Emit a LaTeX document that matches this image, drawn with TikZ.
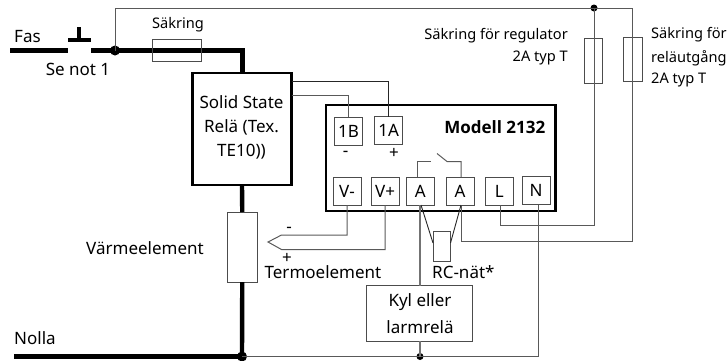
\documentclass[tikz,border=0pt]{standalone}
\usepackage{fontspec}
\setmainfont{Noto Sans}
\newfontfamily\modelfont{Open Sans}
\newcommand{\pxbox}[7][]{%
  \pgfmathsetmacro{\bw}{#5-#3}\pgfmathsetmacro{\bh}{#6-#4}%
  \pgfmathsetmacro{\bx}{(#3+#5)/2}\pgfmathsetmacro{\by}{(#4+#6)/2}%
  \node[#1,minimum width=\bw pt,minimum height=\bh pt] (#2) at (\bx,\by) {#7};}
\begin{document}
\begin{tikzpicture}[x=1pt,y=-1pt,
  boxa/.style={draw=black!70,line width=0.9pt,fill=white,inner sep=0pt,outer sep=0pt,align=center},
  term/.style={boxa,font=\fontsize{17}{20}\selectfont},
  boxb/.style={draw=black,line width=2.4pt,inner sep=0pt,outer sep=0pt,align=center},
  wire/.style={draw=black!65,line width=1pt},
  wireb/.style={draw=black!85,line width=0.9pt},
  power/.style={draw=black,line width=4.4pt},
  dot/.style={circle,fill=black,inner sep=0pt,minimum size=#1},
  txt/.style={inner sep=0pt,font=\fontsize{17}{20}\selectfont},
  small/.style={inner sep=0pt,font=\fontsize{14.6}{17}\selectfont}]
\useasboundingbox (0,0) rectangle (728,360);
% main boxes
\pxbox[boxb]{ssr}{192.5}{73}{291.5}{185}{}
\pxbox[boxb]{model}{326}{105}{555.5}{211}{}
% power lines
\coordinate (fasL) at (10,50.5);
\coordinate (fasR) at (68,50.5);
\coordinate (swR) at (91,50.5);
\node[dot=10pt] (j1) at (115,50.5) {};
\node[dot=10pt] (j2) at (242,356.5) {};
\coordinate (nolL) at (14,356.5);
\pxbox[boxa]{heater}{227.5}{212}{257}{282}{}
\draw[power] (fasL) -- (fasR);
\draw[power,line join=miter] (swR) -| (ssr.north -| 242.5,0);
\draw[power] (ssr.south -| 242,0) -- (heater.north);
\draw[power] (heater.south) -- (j2.center);
\draw[power] (nolL) -- (j2.center);
% switch
\coordinate (swa) at (68,40);
\coordinate (swb) at (90.5,40);
\coordinate (swc) at (79,27);
\coordinate (swd) at (79,40);
\draw[line width=4.6pt] (swa) -- (swb);
\draw[line width=4.6pt] (swc) -- (swd);
% fuses
\pxbox[boxa,fill=none]{fmain}{152.5}{39.5}{201.5}{61}{}
\pxbox[boxa,fill=none]{freg}{584}{38}{602}{83}{}
\pxbox[boxa,fill=none]{frel}{623}{37}{642}{81}{}
% terminals
\pxbox[term]{tB}{334.5}{117}{362.5}{145.5}{1B}
\pxbox[term]{tA}{374.7}{116.7}{402.7}{144.5}{1A}
\pxbox[term]{vm}{333}{177}{361}{205}{V-}
\pxbox[term]{vp}{371.3}{177}{399}{205}{V+}
\pxbox[term]{aa}{406.3}{177}{434.3}{205}{A}
\pxbox[term]{ab}{446.3}{177}{474}{205}{A}
\pxbox[term]{tL}{485.7}{177}{513}{205}{L}
\pxbox[term]{tN}{522.3}{176.5}{550}{204.5}{N}
% other boxes
\pxbox[boxa]{kyl}{366.5}{285.5}{472.5}{341}{}
\pxbox[boxa]{rc}{433}{231.7}{450.5}{261}{}
% junctions on thin lines
\node[dot=7pt] (j3) at (594,8) {};
\node[dot=7pt] (j4) at (420,356.5) {};
\coordinate (topR) at (632,8);
\coordinate (topL) at (115,8);
% thin supply lines
\draw[wire] (j1.center) -- (topL) -- (topR) -- (632,241) -| (ab.south -| 461,0);
\draw[wire] (j3.center) -- (594,225) -| (tL.south -| 500,0);
\draw[wire] (j2.center) -- (538,356.5) -- (tN.south -| 538,0);
\draw[wire,line width=1.4pt,draw=black!55] (aa.south -| 420,0) -- (kyl.north -| 420,0);
\draw[wire,line width=1.4pt,draw=black!55] (kyl.south -| 420,0) -- (j4.center);
% SSR to 1A, 1B
\draw[wireb] (ssr.east |- 0,81) -| (tA.north -| 388,0);
\draw[wire] (ssr.east |- 0,95) -| (tB.north -| 348,0);
% thermocouple
\coordinate (tip) at (268,242);
\coordinate (tcm) at (281.5,235);
\coordinate (tcp) at (281.5,249.5);
\draw[wire] (vm.south -| 347,0) |- (tcm) -- (tip) -- (tcp) -| (vp.south -| 385,0);
% relay contact
\coordinate (cl) at (431,161.5);
\coordinate (cr) at (447,161.5);
\coordinate (cs) at (437,153.5);
\draw[wire] (aa.north -| 417.7,0) |- (cl);
\draw[wire] (ab.north -| 461,0) |- (cr) -- (cs);
% RC
\draw[wireb] (aa.south -| 421,0) -- (rc.west |- 0,243);
\draw[wireb] (ab.south -| 461,0) -- (rc.east |- 0,243);
% labels
\node[txt,anchor=west] (lfas) at (14,37) {Fas};
\node[txt,anchor=center] (lnot) at (78,69) {Se not 1};
\node[small] (lsak) at (178,25) {Säkring};
\node[txt] (lssr1) at (241.5,102) {Solid State};
\node[txt] (lssr2) at (241.5,127) {Relä (Tex.};
\node[txt] (lssr3) at (241.5,152) {TE10))};
\node[txt] (lvarm) at (145,248) {Värmeelement};
\node[txt,anchor=west] (lnol) at (14,338) {Nolla};
\node[txt] (lter) at (323,272) {Termoelement};
\node[txt] (lm) at (289,230) {-};
\node[txt] (lp) at (287,258) {+};
\node[txt] (lbm) at (345.5,154) {-};
\node[txt] (lbp) at (394,153) {+};
\node[inner sep=0pt,anchor=east,font=\fontsize{17}{20}\selectfont\modelfont\bfseries] (lmod) at (545.5,127) {Modell 2132};
\node[txt,anchor=west] (lrc) at (432,272) {RC-nät*};
\node[txt] (lk1) at (420,302) {Kyl eller};
\node[txt] (lk2) at (420,327) {larmrelä};
\node[small,anchor=east] (lr1) at (568,36) {Säkring för regulator};
\node[small,anchor=east] (lr2) at (568,58) {2A typ T};
\node[small,anchor=west] (lq1) at (651,35) {Säkring för};
\node[small,anchor=west] (lq2) at (651,58) {reläutgång};
\node[small,anchor=west] (lq3) at (651,80) {2A typ T};
\end{tikzpicture}
\end{document}
